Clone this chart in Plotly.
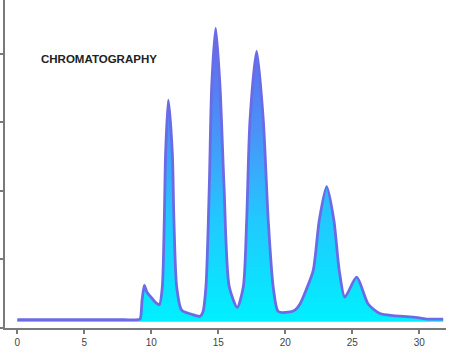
import plotly.graph_objects as go

# Retention time (min) and detector signal
time = [0.0, 2.0, 4.0, 6.0, 8.0, 8.9, 9.16, 9.31, 9.48, 9.68, 9.98, 10.28, 10.60,
        10.82, 10.97, 11.07, 11.27, 11.57, 11.69, 11.90, 12.27, 13.01, 13.63,
        13.85, 14.08, 14.33, 14.51, 14.81, 15.13, 15.43, 15.82, 16.42,
        16.87, 17.12, 17.37, 17.87, 18.36, 18.73, 19.10, 19.48, 20.20,
        20.72, 21.10, 21.55, 22.09, 22.54, 23.09, 23.63, 24.03, 24.45,
        25.33, 26.19, 27.07, 28.06, 29.55, 30.55, 31.79]
signal = [0.12, 0.12, 0.12, 0.12, 0.12, 0.12, 0.13, 0.40, 0.62, 0.52, 0.45, 0.38, 0.34,
          0.59, 1.57, 2.55, 3.32, 2.55, 1.57, 0.59, 0.26, 0.20, 0.17,
          0.23, 0.60, 2.06, 3.52, 4.37, 3.52, 2.06, 0.60, 0.30,
          0.60, 1.57, 3.03, 4.03, 3.03, 1.57, 0.60, 0.24, 0.23,
          0.26, 0.35, 0.55, 0.84, 1.57, 2.06, 1.57, 0.84, 0.45,
          0.74, 0.35, 0.21, 0.18, 0.16, 0.13, 0.13]
fill_base = [0.09] * len(time)

x_ticks = [0, 5, 10, 15, 20, 25, 30]
y_ticks = [0, 1, 2, 3, 4]
title_text = "CHROMATOGRAPHY"

fig = go.Figure()
fig.add_trace(go.Scatter(x=time, y=fill_base, mode="lines",
                         line=dict(width=0),
                         hoverinfo="skip", showlegend=False))
fig.add_trace(go.Scatter(
    x=time, y=signal, mode="lines",
    line=dict(color="#6b6be6", width=2.8, shape="spline", smoothing=0.7),
    fill="tonexty",
    fillgradient=dict(type="vertical", start=0.09, stop=4.4,
                      colorscale=[[0, "#00f0ff"], [0.35, "#22c8ff"],
                                  [0.65, "#4a92f8"], [1, "#6464ec"]]),
    showlegend=False))

axis_col = "#7a7a7a"
fig.update_layout(
    width=474, height=355,
    margin=dict(l=5, r=28, t=0, b=27),
    paper_bgcolor="white", plot_bgcolor="white",
    font=dict(family="Liberation Sans, Arial, sans-serif"),
    xaxis=dict(range=[-0.92, 32.0], tickvals=x_ticks, showgrid=False,
               zeroline=False, showline=True, linecolor=axis_col, linewidth=2,
               ticks="outside", ticklen=4, tickcolor=axis_col, tickwidth=1.5,
               tickfont=dict(size=10, color="#444444")),
    yaxis=dict(range=[0, 4.78], tickvals=y_ticks, showgrid=False,
               zeroline=False, showline=True, linecolor=axis_col, linewidth=2,
               ticks="outside", ticklen=4, tickcolor=axis_col, tickwidth=1.5,
               showticklabels=False),
    annotations=[dict(text="<b>" + title_text + "</b>", xref="paper", yref="paper",
                      x=0.213, y=0.82, xanchor="center", yanchor="middle",
                      showarrow=False,
                      font=dict(size=11.5, color="#222222"))],
)

fig.write_html("out.html")
